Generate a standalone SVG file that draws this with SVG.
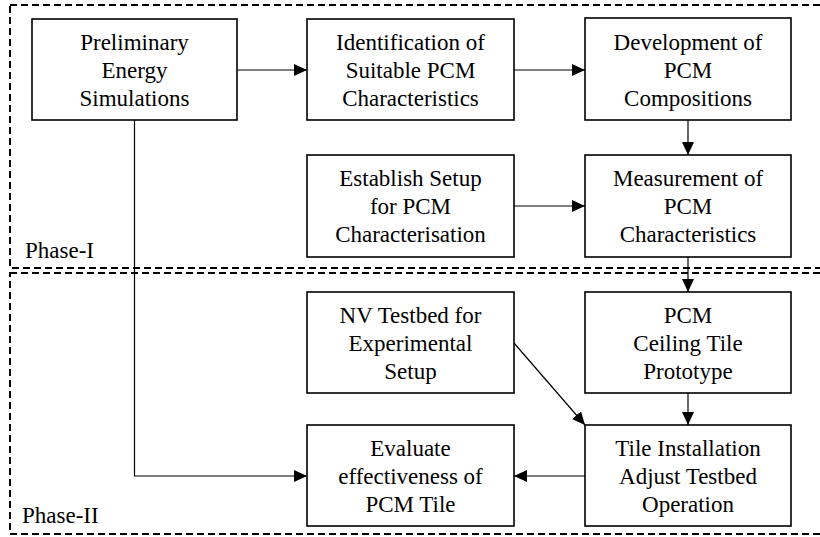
<svg xmlns="http://www.w3.org/2000/svg" width="820" height="537" viewBox="0 0 820 537" font-family="Liberation Serif" font-size="23">
<defs>
<marker id="ah" markerWidth="13" markerHeight="12" refX="13" refY="6" orient="auto" markerUnits="userSpaceOnUse">
<path d="M0,0 L13,6 L0,12 Z" fill="#000"/>
</marker>
</defs>
<rect width="820" height="537" fill="#fff"/>
<g id="phase1">
<rect x="10" y="5" width="830" height="263" fill="none" stroke="#000" stroke-width="2" stroke-dasharray="7 4"/>
<text x="25" y="258" font-family="Liberation Serif">Phase-I</text>
</g>
<g id="phase2">
<rect x="10" y="273" width="830" height="261" fill="none" stroke="#000" stroke-width="2" stroke-dasharray="7 4"/>
<text x="22" y="523" font-family="Liberation Serif">Phase-II</text>
</g>
<g id="connectors" fill="none" stroke="#000" stroke-width="1.2">
<line x1="237" y1="70" x2="307" y2="70" marker-end="url(#ah)"/>
<line x1="514" y1="70" x2="585" y2="70" marker-end="url(#ah)"/>
<line x1="688" y1="120" x2="688" y2="155" marker-end="url(#ah)"/>
<line x1="514" y1="206" x2="585" y2="206" marker-end="url(#ah)"/>
<line x1="688" y1="257" x2="688" y2="292" marker-end="url(#ah)"/>
<line x1="688" y1="393" x2="688" y2="425" marker-end="url(#ah)"/>
<line x1="514" y1="343" x2="585" y2="425" marker-end="url(#ah)"/>
<line x1="585" y1="476" x2="514" y2="476" marker-end="url(#ah)"/>
<polyline points="134.5,120 134.5,476 307,476" marker-end="url(#ah)"/>
</g>
<g id="n1" text-anchor="middle" font-family="Liberation Serif">
<rect x="32" y="19" width="205" height="101" fill="#fff" stroke="#000" stroke-width="1.6"/>
<text x="134.5" y="50">Preliminary</text>
<text x="134.5" y="78">Energy</text>
<text x="134.5" y="106">Simulations</text>
</g>
<g id="n2" text-anchor="middle" font-family="Liberation Serif">
<rect x="307" y="19" width="207" height="101" fill="#fff" stroke="#000" stroke-width="1.6"/>
<text x="410.5" y="50">Identification of</text>
<text x="410.5" y="78">Suitable PCM</text>
<text x="410.5" y="106">Characteristics</text>
</g>
<g id="n3" text-anchor="middle" font-family="Liberation Serif">
<rect x="585" y="18" width="206" height="102" fill="#fff" stroke="#000" stroke-width="1.6"/>
<text x="688" y="50">Development of</text>
<text x="688" y="78">PCM</text>
<text x="688" y="106">Compositions</text>
</g>
<g id="n4" text-anchor="middle" font-family="Liberation Serif">
<rect x="307" y="155" width="207" height="102" fill="#fff" stroke="#000" stroke-width="1.6"/>
<text x="410.5" y="186">Establish Setup</text>
<text x="410.5" y="214">for PCM</text>
<text x="410.5" y="242">Characterisation</text>
</g>
<g id="n5" text-anchor="middle" font-family="Liberation Serif">
<rect x="585" y="155" width="206" height="102" fill="#fff" stroke="#000" stroke-width="1.6"/>
<text x="688" y="186">Measurement of</text>
<text x="688" y="214">PCM</text>
<text x="688" y="242">Characteristics</text>
</g>
<g id="n6" text-anchor="middle" font-family="Liberation Serif">
<rect x="307" y="292" width="207" height="101" fill="#fff" stroke="#000" stroke-width="1.6"/>
<text x="410.5" y="323">NV Testbed for</text>
<text x="410.5" y="351">Experimental</text>
<text x="410.5" y="379">Setup</text>
</g>
<g id="n7" text-anchor="middle" font-family="Liberation Serif">
<rect x="585" y="292" width="206" height="101" fill="#fff" stroke="#000" stroke-width="1.6"/>
<text x="688" y="323">PCM</text>
<text x="688" y="351">Ceiling Tile</text>
<text x="688" y="379">Prototype</text>
</g>
<g id="n8" text-anchor="middle" font-family="Liberation Serif">
<rect x="307" y="425" width="207" height="101" fill="#fff" stroke="#000" stroke-width="1.6"/>
<text x="410.5" y="456">Evaluate</text>
<text x="410.5" y="484">effectiveness of</text>
<text x="410.5" y="512">PCM Tile</text>
</g>
<g id="n9" text-anchor="middle" font-family="Liberation Serif">
<rect x="585" y="425" width="206" height="101" fill="#fff" stroke="#000" stroke-width="1.6"/>
<text x="688" y="456">Tile Installation</text>
<text x="688" y="484">Adjust Testbed</text>
<text x="688" y="512">Operation</text>
</g>
</svg>
